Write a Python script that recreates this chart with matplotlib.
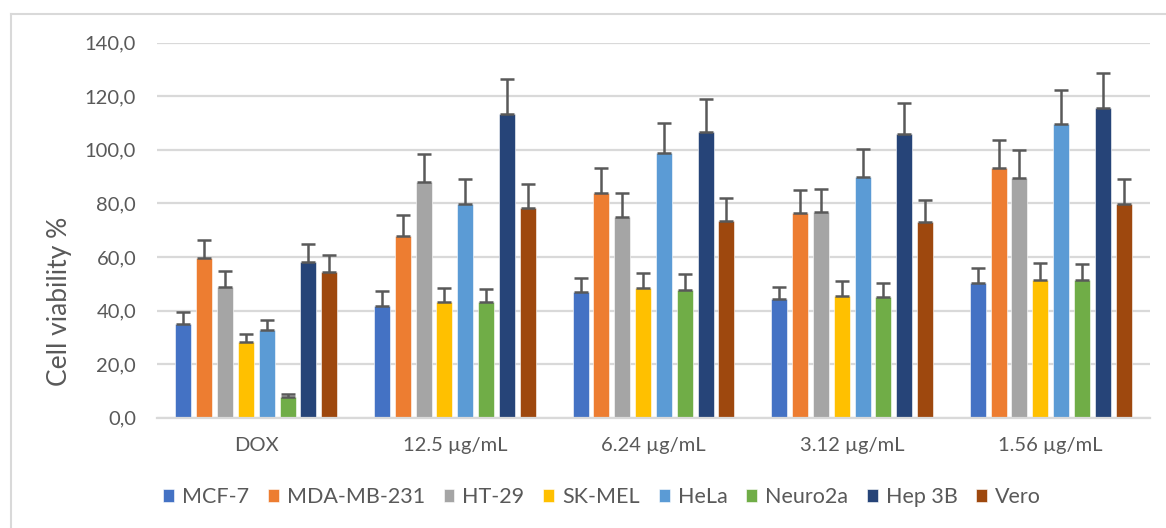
import numpy as np
import matplotlib
matplotlib.use("Agg")
import matplotlib.pyplot as plt
from matplotlib.lines import Line2D

plt.rcParams['font.family'] = ['Lato', 'DejaVu Sans']

# Data
groups = ["DOX", "12.5 µg/mL", "6.24 µg/mL", "3.12 µg/mL", "1.56 µg/mL"]
cell_lines = ["MCF-7", "MDA-MB-231", "HT-29", "SK-MEL", "HeLa", "Neuro2a", "Hep 3B", "Vero"]
colors = ["#4472C4", "#ED7D31", "#A5A5A5", "#FFC000", "#5B9BD5", "#70AD47", "#264478", "#9E480E"]

mcf7 = [34.8, 41.8, 46.8, 44.2, 50.2]
mda = [59.5, 67.8, 83.8, 76.3, 93.1]
ht29 = [48.7, 87.9, 74.8, 76.8, 89.4]
skmel = [28.2, 43.1, 48.3, 45.4, 51.5]
hela = [32.8, 79.9, 98.7, 89.9, 109.5]
neuro = [7.6, 43.1, 47.8, 45.1, 51.5]
hep3b = [58.2, 113.2, 106.8, 105.8, 115.5]
vero = [54.4, 78.2, 73.5, 73.1, 79.6]

mcf7_err = [4.5, 5.5, 5.2, 4.7, 5.8]
mda_err = [7.0, 7.7, 9.4, 8.6, 10.4]
ht29_err = [6.0, 10.5, 9.1, 8.6, 10.4]
skmel_err = [3.0, 5.3, 5.8, 5.5, 6.2]
hela_err = [3.6, 9.2, 11.4, 10.4, 12.7]
neuro_err = [1.2, 4.8, 5.8, 5.2, 5.7]
hep3b_err = [6.8, 13.2, 12.2, 11.8, 13.2]
vero_err = [6.3, 9.0, 8.6, 8.1, 9.5]

values = [mcf7, mda, ht29, skmel, hela, neuro, hep3b, vero]
errors = [mcf7_err, mda_err, ht29_err, skmel_err, hela_err, neuro_err, hep3b_err, vero_err]

fig = plt.figure(figsize=(11.66, 5.28), dpi=100)
ax = fig.add_axes([157 / 1166, 110.3 / 528, 993 / 1166, 375 / 528])

x = np.arange(len(groups))
step = 0.1048
width = 0.0806
text_color = "#595959"

for i, (vals, errs) in enumerate(zip(values, errors)):
    pos = x + (i - 3.5) * step
    ax.bar(pos, vals, width, color=colors[i], label=cell_lines[i],
           edgecolor="white", linewidth=0.4, zorder=2)
    ax.errorbar(pos, vals, yerr=[np.zeros(len(errs)), errs], fmt="none",
                ecolor="#595959", elinewidth=1.8, capsize=5, capthick=1.8, zorder=3)

ax.set_xlim(-0.5, len(groups) - 0.5)
ax.set_ylim(0, 140)
ax.set_yticks(np.arange(0, 141, 20))
ax.set_yticklabels([f"{v:.1f}".replace(".", ",") for v in np.arange(0, 141, 20)])
ax.set_xticks(x)
ax.set_xticklabels(groups)
ax.yaxis.grid(True, color="#d9d9d9", linewidth=1.6, zorder=0)
ax.set_axisbelow(True)
for s in ["top", "right", "left"]:
    ax.spines[s].set_visible(False)
ax.spines["bottom"].set_color("#d9d9d9")
ax.spines["bottom"].set_linewidth(1.6)
ax.tick_params(axis="both", length=0, labelsize=14.5, colors=text_color)
ax.tick_params(axis="y", pad=15)
ax.tick_params(axis="x", pad=14)
ax.set_ylabel("Cell viability %", fontsize=19, color=text_color)
ax.yaxis.set_label_coords(60 / 1166, 227 / 528, transform=fig.transFigure)
ax.yaxis.label.set_verticalalignment("center")

ax.legend(loc="center", bbox_to_anchor=(602 / 1166, 31 / 528), bbox_transform=fig.transFigure,
          ncol=8, frameon=False, fontsize=15.5, labelcolor=text_color,
          handlelength=0.51, handleheight=0.51, handletextpad=0.37, columnspacing=0.87)

# chart area border (top and left edges visible)
fig.add_artist(Line2D([11 / 1166, 11 / 1166], [0, 1 - 14 / 528], transform=fig.transFigure,
                      color="#d9d9d9", linewidth=1.5))
fig.add_artist(Line2D([11 / 1166, 1], [1 - 14 / 528, 1 - 14 / 528], transform=fig.transFigure,
                      color="#d9d9d9", linewidth=1.5))

fig.savefig("out.png", dpi=100)
